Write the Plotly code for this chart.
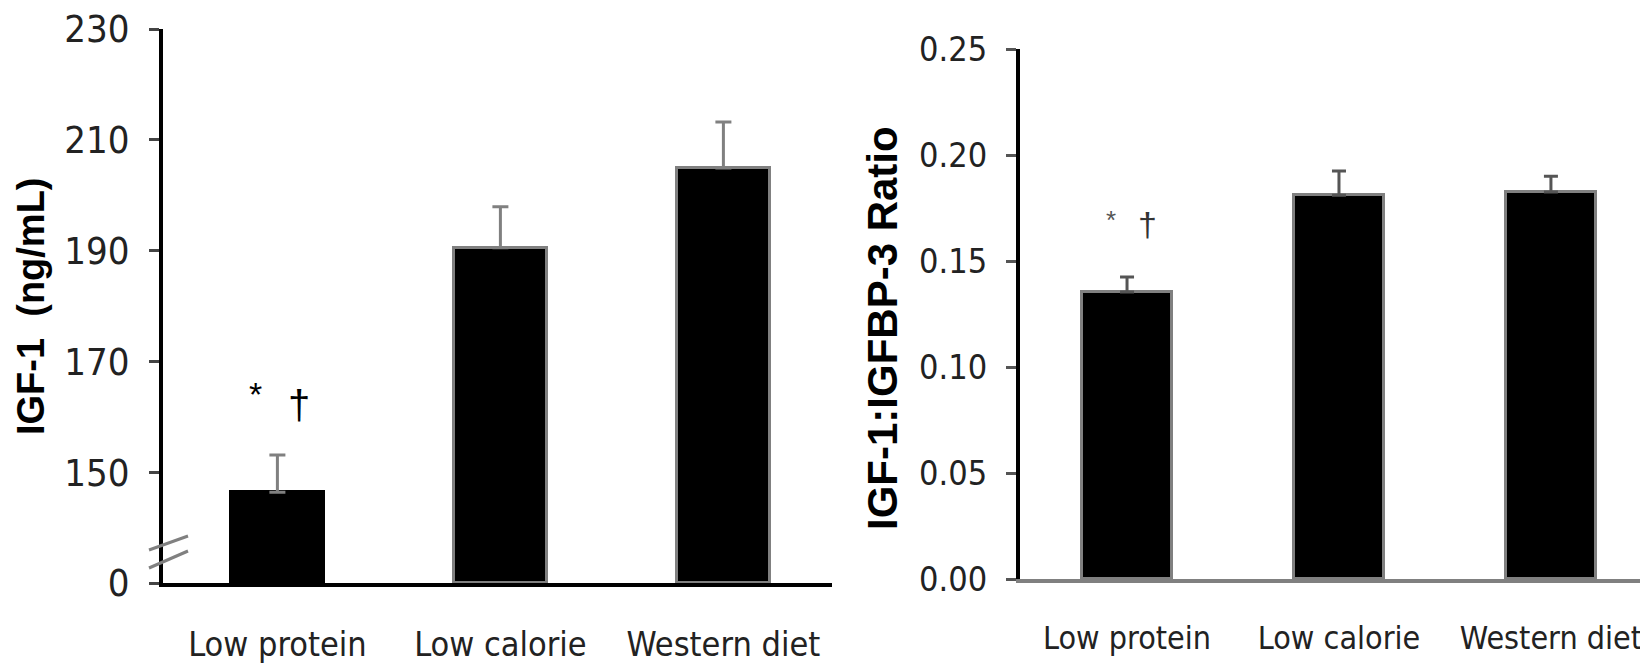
import plotly.graph_objects as go

# ---- data ----
categories = ["Low protein", "Low calorie", "Western diet"]
igf1_mean = [146.4, 190.5, 204.9]
igf1_err = [6.7, 7.4, 8.3]
igf1_yticks = [130, 150, 170, 190, 210, 230]
igf1_yticklabels = ["0", "150", "170", "190", "210", "230"]

ratio_mean = [0.1354, 0.181, 0.1825]
ratio_err = [0.0071, 0.0115, 0.0075]
ratio_yticks = [0.00, 0.05, 0.10, 0.15, 0.20, 0.25]
ratio_yticklabels = ["0.00", "0.05", "0.10", "0.15", "0.20", "0.25"]

IGF1_BREAK = 130  # axis break: value drawn at this level is labelled "0"

# page body has an 8px margin: size the figure so it fills the window exactly
OFF = 8
W, H = 1648 - OFF, 666 - OFF


def px(x):
    return (x - OFF) / W


def py(y):
    return (H - (y - OFF)) / H


NARROW = "Liberation Sans Narrow, Arial Narrow, DejaVu Sans Condensed, sans-serif"
BOLD = "Liberation Sans, Arial, sans-serif"

fig = go.Figure()

fig.add_trace(go.Bar(
    x=[0, 1, 2], y=[m - IGF1_BREAK for m in igf1_mean], base=IGF1_BREAK, width=0.417,
    marker=dict(color="black", line=dict(color=["black", "#808080", "#808080"], width=3)),
    error_y=dict(type="data", symmetric=False, array=igf1_err, arrayminus=[0, 0, 0],
                 color="#808080", thickness=3, width=8),
    xaxis="x", yaxis="y", showlegend=False,
))

fig.add_trace(go.Bar(
    x=[0, 1, 2], y=ratio_mean, width=0.425,
    marker=dict(color="black", line=dict(color="#808080", width=3)),
    error_y=dict(type="data", symmetric=False, array=ratio_err, arrayminus=[0, 0, 0],
                 color="#555555", thickness=3, width=7),
    xaxis="x2", yaxis="y2", showlegend=False,
))

fig.update_layout(
    width=W, height=H, margin=dict(l=0, r=0, t=0, b=0),
    paper_bgcolor="white", plot_bgcolor="white", bargap=0,
    xaxis=dict(domain=[px(163), px(832)], range=[-0.513, 2.487], tickvals=[0, 1, 2], ticktext=categories,
               showgrid=False, zeroline=False, showline=True, linecolor="black", linewidth=4,
               ticks="", tickangle=0, automargin=False, ticklabeloverflow="allow",
               tickfont=dict(family=NARROW, size=34, color="#222"),
               ticklabelstandoff=28),
    yaxis=dict(domain=[py(583), py(29)], range=[130, 230], tickvals=igf1_yticks, ticktext=igf1_yticklabels,
               showgrid=False, zeroline=False, showline=True, linecolor="black", linewidth=4,
               ticks="outside", ticklen=10, tickwidth=3, tickcolor="#444", automargin=False,
               ticklabeloverflow="allow",
               tickfont=dict(family=NARROW, size=38, color="#222"), ticklabelstandoff=12),
    xaxis2=dict(domain=[px(1020), 1.0], range=[-0.505, 2.458], tickvals=[0, 1, 2], ticktext=categories,
                showgrid=False, zeroline=False, showline=True, linecolor="#808080", linewidth=4,
                ticks="", tickangle=0, automargin=False, ticklabeloverflow="allow",
                tickfont=dict(family=NARROW, size=32, color="#222"),
                ticklabelstandoff=28, anchor="y2"),
    yaxis2=dict(domain=[py(579), py(49)], range=[0, 0.25], tickvals=ratio_yticks, ticktext=ratio_yticklabels,
                showgrid=False, zeroline=False, showline=True, linecolor="black", linewidth=4,
                ticks="outside", ticklen=10, tickwidth=3, tickcolor="#555", automargin=False,
                ticklabeloverflow="allow",
                tickfont=dict(family=NARROW, size=34, color="#222"), ticklabelstandoff=12,
                anchor="x2"),
)

# axis titles
fig.add_annotation(text="IGF-1  (ng/mL)", xref="paper", yref="paper", x=px(31), y=py(306),
                   textangle=-90, showarrow=False, xanchor="center", yanchor="middle",
                   font=dict(family=BOLD, size=38, color="black", weight="bold"))
fig.add_annotation(text="IGF-1:IGFBP-3 Ratio", xref="paper", yref="paper", x=px(883), y=py(328),
                   textangle=-90, showarrow=False, xanchor="center", yanchor="middle",
                   font=dict(family=BOLD, size=42, color="black", weight="bold"))

# significance markers
fig.add_annotation(text="*", x=-0.096, y=igf1_mean[0] + igf1_err[0] + 11, xref="x", yref="y",
                   showarrow=False, font=dict(family=BOLD, size=34, color="black"))
fig.add_annotation(text="†", x=0.096, y=igf1_mean[0] + igf1_err[0] + 9, xref="x", yref="y",
                   showarrow=False, font=dict(family=BOLD, size=40, color="black"))
fig.add_annotation(text="*", x=-0.075, y=ratio_mean[0] + ratio_err[0] + 0.027, xref="x2", yref="y2",
                   showarrow=False, font=dict(family=BOLD, size=26, color="#555"))
fig.add_annotation(text="†", x=0.095, y=ratio_mean[0] + ratio_err[0] + 0.025, xref="x2", yref="y2",
                   showarrow=False, font=dict(family=BOLD, size=34, color="#333"))

# axis break marks
for y0, y1 in [(550, 536), (568, 551)]:
    fig.add_shape(type="line", xref="paper", yref="paper", x0=px(149), x1=px(188), y0=py(y0), y1=py(y1),
                  line=dict(color="#808080", width=3))

fig.write_html("out.html")
